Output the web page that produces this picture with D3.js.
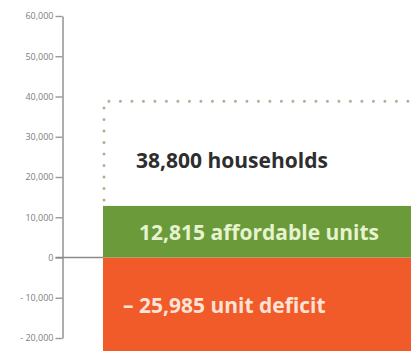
<!DOCTYPE html>
<html>
<head>
<meta charset="utf-8">
<script src="https://cdn.jsdelivr.net/npm/d3@7"></script>
<style>
  body { margin: 0; background: #fff; }
</style>
</head>
<body>
<div id="wrapper"></div>
<script>
// data
const tickValues = [60000, 50000, 40000, 30000, 20000, 10000, 0, -10000, -20000]
const households = 38800
const affordable = 12815
const deficit = -25985
const labels = ["38,800 households", "12,815 affordable units", "\u2013 25,985 unit deficit"]

const width = 411
const height = 351

const svg = d3.select("#wrapper")
  .append("svg")
    .attr("width", width)
    .attr("height", height)

// y scale (fitted to the picture)
const yScale = d3.scaleLinear()
  .domain([-20000, 60000])
  .range([338, 16])

const axisX = 62.5
const barLeft = 103

// format tick labels, negatives get a spaced dash
const fmt = d => d < 0 ? "- " + d3.format(",")(-d) : d3.format(",")(d)

const yAxisGenerator = d3.axisLeft(yScale)
  .tickValues(tickValues)
  .tickFormat(fmt)
  .tickSize(7)
  .tickSizeOuter(0)
  .tickPadding(2)

const yAxis = svg.append("g")
  .attr("transform", `translate(${axisX},0)`)
  .call(yAxisGenerator)

yAxis.select(".domain")
  .attr("stroke", "#999")
  .attr("stroke-width", 1.6)
yAxis.selectAll(".tick line")
  .attr("stroke", "#999")
  .attr("stroke-width", 1.4)
yAxis.selectAll(".tick text")
  .attr("fill", "#7d7d7d")
  .style("font-size", "9px")
  .style("font-family", "'Open Sans', sans-serif")

// bars
const barsGroup = svg.append("g")

// orange deficit bar
barsGroup.append("rect")
  .attr("x", barLeft)
  .attr("y", yScale(0))
  .attr("width", width - barLeft)
  .attr("height", yScale(deficit) - yScale(0))
  .attr("fill", "#f15a29")

// green affordable bar
barsGroup.append("rect")
  .attr("x", barLeft)
  .attr("y", yScale(affordable))
  .attr("width", width - barLeft)
  .attr("height", yScale(0) - yScale(affordable))
  .attr("fill", "#6b9a3a")

// zero line from axis to bars
svg.append("line")
  .attr("x1", axisX - 7)
  .attr("x2", barLeft)
  .attr("y1", yScale(0))
  .attr("y2", yScale(0))
  .attr("stroke", "#8a8a8a")
  .attr("stroke-width", 1.6)

// dotted outline for households
const dotted = d3.path()
dotted.moveTo(barLeft + 1, yScale(affordable) - 6)
dotted.lineTo(barLeft + 1, yScale(households))
dotted.lineTo(width + 5, yScale(households))

svg.append("path")
  .attr("d", dotted.toString())
  .attr("fill", "none")
  .attr("stroke", "#b3ad92")
  .attr("stroke-width", 3)
  .attr("stroke-linecap", "round")
  .attr("stroke-dasharray", "0 11.5")

// labels
const labelStyle = sel => sel
  .style("font-family", "'Open Sans', sans-serif")
  .style("font-weight", "bold")
  .style("font-size", "21px")
  .attr("dominant-baseline", "central")

svg.append("text")
  .attr("x", 136)
  .attr("y", (yScale(households) + yScale(affordable)) / 2 + 6)
  .text(labels[0])
  .attr("fill", "#2e2e2e")
  .call(labelStyle)

svg.append("text")
  .attr("x", 139)
  .attr("y", (yScale(affordable) + yScale(0)) / 2)
  .text(labels[1])
  .attr("fill", "#e6f3cf")
  .call(labelStyle)

svg.append("text")
  .attr("x", 123)
  .attr("y", yScale(-11700))
  .text(labels[2])
  .attr("fill", "#fde3d6")
  .call(labelStyle)
</script>
</body>
</html>
